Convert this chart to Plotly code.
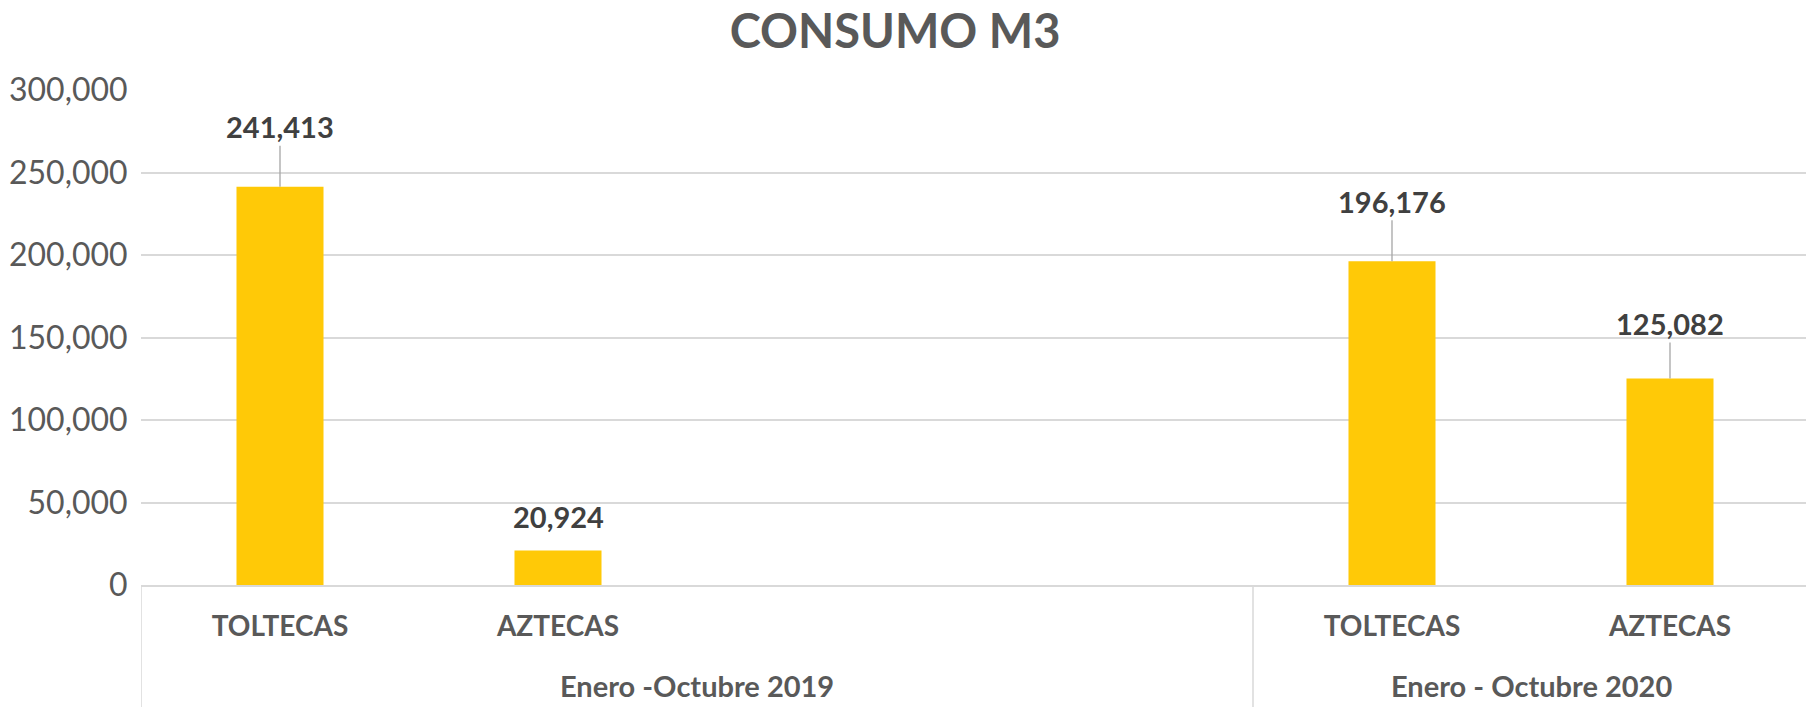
import plotly.graph_objects as go

# ---- data ----
periodos = ["Enero -Octubre 2019", "Enero -Octubre 2019", "Enero -Octubre 2019",
            "Enero -Octubre 2019", "Enero - Octubre 2020", "Enero - Octubre 2020"]
zonas = ["TOLTECAS", "AZTECAS", "", "", "TOLTECAS", "AZTECAS"]
consumo = [241413, 20924, None, None, 196176, 125082]
y_ticks = [0, 50000, 100000, 150000, 200000, 250000, 300000]
titulo = "CONSUMO M3"

# ---- styles ----
label_offsets = [-60, -34, 0, 0, -60, -55]
label_arrow = [True, False, False, False, True, True]
BAR = "#FFC907"
GRID = "#D9D9D9"
FONT = "Lato"

keys = [f"{p}|{z}|{i}" for i, (p, z) in enumerate(zip(periodos, zonas))]

fig = go.Figure()
fig.add_trace(go.Bar(x=keys, y=consumo, marker=dict(color=BAR, line=dict(width=0)),
                     hoverinfo="skip"))

annotations = []
for i, (k, v) in enumerate(zip(keys, consumo)):
    if v is None:
        continue
    lab_font = dict(family=FONT, size=29, color="#404040", weight="bold")
    if label_arrow[i]:
        annotations.append(dict(x=k, y=v, xref="x", yref="y", text=f"{v:,}",
                                showarrow=True, ax=0, ay=label_offsets[i], arrowhead=0,
                                arrowwidth=1.3, arrowcolor="#A6A6A6", standoff=0,
                                font=lab_font))
    else:
        annotations.append(dict(x=k, y=v, xref="x", yref="y", text=f"{v:,}",
                                showarrow=False, yshift=-label_offsets[i], font=lab_font))

# group labels and dividers
groups = []
for i, p in enumerate(periodos):
    if not groups or groups[-1][0] != p:
        groups.append([p, i, i])
    else:
        groups[-1][2] = i

shapes = []
bottom = -0.3
for p, a, b in groups:
    annotations.append(dict(x=(a + b) / 2, y=-(685 - 585) / 495, xref="x", yref="paper",
                            text=p, showarrow=False, yanchor="middle",
                            font=dict(family=FONT, size=29, color="#595959", weight="bold")))
    shapes.append(dict(type="line", xref="x", yref="paper", x0=a - 0.5, x1=a - 0.5,
                       y0=0, y1=bottom, line=dict(color=GRID, width=1.5)))
shapes.append(dict(type="line", xref="x", yref="paper", x0=len(keys) - 0.5, x1=len(keys) - 0.5,
                   y0=0, y1=bottom, line=dict(color=GRID, width=1.5)))

fig.update_layout(
    width=1814, height=707,
    margin=dict(l=133, r=13, t=82, b=130),
    paper_bgcolor="white", plot_bgcolor="white",
    bargap=0.687,
    showlegend=False,
    title=dict(text=titulo, x=0.489, xanchor="center", y=1 - 24 / 707, yanchor="middle",
               font=dict(family=FONT, size=47, color="#595959", weight="bold")),
    annotations=annotations,
    shapes=shapes,
)
fig.update_xaxes(type="category", categoryorder="array", categoryarray=keys,
                 tickvals=keys, ticktext=zonas, range=[-0.5, len(keys) - 0.5],
                 automargin=False,
                 showline=True, linecolor=GRID, linewidth=1.5, showgrid=False,
                 ticks="outside", ticklen=16, tickcolor="rgba(0,0,0,0)",
                 tickfont=dict(family=FONT, size=28, color="#595959", weight="bold"))
fig.update_yaxes(range=[0, 300000], tickvals=y_ticks, tickformat=",",
                 automargin=False,
                 showgrid=True, gridcolor=GRID, gridwidth=1.5, zeroline=False,
                 showline=False, ticks="outside", ticklen=6, tickcolor="rgba(0,0,0,0)",
                 tickfont=dict(family=FONT, size=32, color="#595959"))

fig.write_html("out.html")
